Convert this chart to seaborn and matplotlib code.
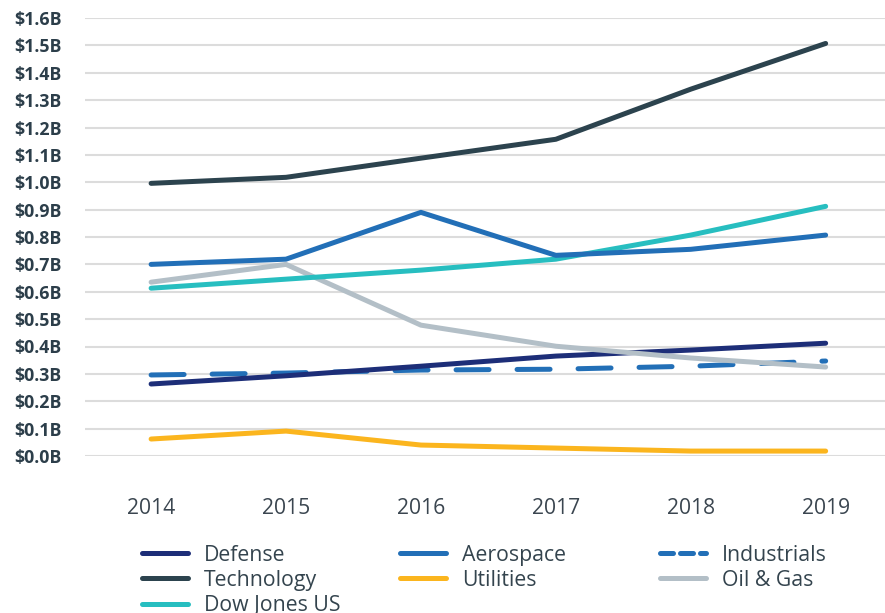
import matplotlib
matplotlib.use("Agg")
import matplotlib.pyplot as plt
import seaborn as sns
import pandas as pd
from matplotlib.lines import Line2D

years = [2014, 2015, 2016, 2017, 2018, 2019]
defense = [0.263, 0.293, 0.328, 0.365, 0.387, 0.412]
technology = [0.996, 1.018, 1.088, 1.157, 1.340, 1.507]
dow_jones = [0.613, 0.646, 0.679, 0.719, 0.807, 0.912]
aerospace = [0.700, 0.719, 0.890, 0.733, 0.755, 0.807]
utilities = [0.062, 0.091, 0.040, 0.029, 0.018, 0.018]
industrials = [0.296, 0.303, 0.314, 0.317, 0.328, 0.347]
oil_gas = [0.635, 0.700, 0.478, 0.401, 0.358, 0.325]
y_ticks = [0.0, 0.1, 0.2, 0.3, 0.4, 0.5, 0.6, 0.7, 0.8, 0.9, 1.0, 1.1, 1.2, 1.3, 1.4, 1.5, 1.6]

series = [
    ("Defense", defense, "#1d2e78", None),
    ("Technology", technology, "#2c434e", None),
    ("Dow Jones US", dow_jones, "#27bec0", None),
    ("Aerospace", aerospace, "#226fb7", None),
    ("Utilities", utilities, "#fbb51e", None),
    ("Industrials", industrials, "#226fb7", (6.6, 5.6)),
    ("Oil & Gas", oil_gas, "#b3bfc7", None),
]
legend_columns = [["Defense", "Technology", "Dow Jones US"],
                  ["Aerospace", "Utilities"],
                  ["Industrials", "Oil & Gas"]]
draw_order = ["Industrials", "Utilities", "Defense", "Oil & Gas", "Dow Jones US", "Aerospace", "Technology"]

sns.set_style("white")
plt.rcParams["font.family"] = ["Open Sans", "DejaVu Sans"]

fig = plt.figure(figsize=(8.85, 6.13), dpi=100)
ax = fig.add_axes([85 / 885, 1 - 456 / 613, 800 / 885, (456 - 18) / 613])

lookup = {s[0]: s for s in series}
lw = 3.6
for name in draw_order:
    _, vals, col, dash = lookup[name]
    df = pd.DataFrame({"year": years, "value": vals})
    sns.lineplot(data=df, x="year", y="value", ax=ax, color=col, linewidth=lw,
                 legend=False, zorder=3)
    line = ax.lines[-1]
    line.set_solid_capstyle("round")
    line.set_dash_capstyle("round")
    line.set_solid_joinstyle("round")
    if dash is not None:
        line.set_dashes(dash)

ax.set_xlim(2013.51, 2019.44)
ax.set_ylim(0, 1.6)
ax.set_yticks(y_ticks)
ax.set_yticklabels([f"${v:.1f}B" for v in y_ticks], fontsize=12.8,
                   fontweight="bold", color="#2c3e4a")
ax.set_xticks(years)
ax.set_xticklabels([str(y) for y in years], fontsize=15.2, color="#3b4650")
ax.tick_params(axis="both", length=0)
ax.tick_params(axis="y", pad=17)
ax.tick_params(axis="x", pad=30)
ax.grid(axis="y", color="#dcdcdc", linewidth=1.5, zorder=0)
ax.grid(axis="x", visible=False)
for s in ax.spines.values():
    s.set_visible(False)
ax.set_xlabel("")
ax.set_ylabel("")

col_x = [131, 389, 649]
for cx, names in zip(col_x, legend_columns):
    handles = []
    for name in names:
        _, _, col, dash = lookup[name]
        h = Line2D([0], [0], color=col, linewidth=lw, solid_capstyle="round",
                   dash_capstyle="round")
        if dash is not None:
            h.set_dashes((2.6, 1.4))
        handles.append(h)
    leg = fig.legend(handles, names, ncol=1, loc="upper left",
                     bbox_to_anchor=(cx / 885, 1 - 534 / 613), frameon=False,
                     borderpad=0, handlelength=2.2, handletextpad=0.75,
                     labelspacing=0.2, fontsize=15.3)
    for t in leg.get_texts():
        t.set_color("#34444e")

fig.savefig("out.png", dpi=100)
